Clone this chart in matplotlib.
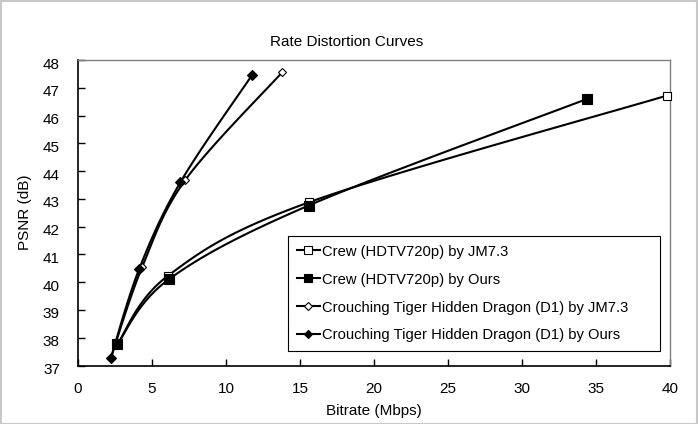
import numpy as np
import matplotlib
matplotlib.use("Agg")
import matplotlib.pyplot as plt
import matplotlib.transforms as mtransforms
from matplotlib.lines import Line2D

plt.rcParams['font.family'] = ['Liberation Sans', 'DejaVu Sans']

# Data (Bitrate Mbps, PSNR dB)
crew_jm_x = [2.65, 6.1, 15.62, 39.8]
crew_jm_y = [37.76, 40.24, 42.88, 46.72]
crew_ours_x = [2.65, 6.13, 15.58, 34.4]
crew_ours_y = [37.76, 40.1, 42.76, 46.6]
tiger_jm_x = [2.22, 4.33, 7.25, 13.8]
tiger_jm_y = [37.27, 40.54, 43.68, 47.56]
tiger_ours_x = [2.22, 4.13, 6.92, 11.75]
tiger_ours_y = [37.27, 40.47, 43.6, 47.45]

labels = ["Crew (HDTV720p) by JM7.3",
          "Crew (HDTV720p) by Ours",
          "Crouching Tiger Hidden Dragon (D1) by JM7.3",
          "Crouching Tiger Hidden Dragon (D1) by Ours"]

xticks = [0, 5, 10, 15, 20, 25, 30, 35, 40]
yticks = list(range(37, 49))

W, H = 698, 424
fig = plt.figure(figsize=(W / 100, H / 100), dpi=100)
ax = fig.add_axes([78 / W, 1 - 365.5 / H, (670 - 78) / W, (365.5 - 60) / H])

XMIN, XMAX, YMIN, YMAX = 0, 40, 37, 48
PXW, PXH = 592.0, 305.5


def smooth(xs, ys, n=40):
    # Catmull-Rom style smoothing (like spreadsheet smoothed lines), in pixel space
    px = (np.array(xs) - XMIN) / (XMAX - XMIN) * PXW
    py = (np.array(ys) - YMIN) / (YMAX - YMIN) * PXH
    pts = np.column_stack([px, py])
    P = np.vstack([pts[0], pts, pts[-1]])
    out = []
    for i in range(1, len(P) - 2):
        p0, p1, p2, p3 = P[i - 1], P[i], P[i + 1], P[i + 2]
        c1 = p1 + (p2 - p0) / 6.0
        c2 = p2 - (p3 - p1) / 6.0
        t = np.linspace(0, 1, n)[:, None]
        seg = ((1 - t) ** 3) * p1 + 3 * ((1 - t) ** 2) * t * c1 + 3 * (1 - t) * t ** 2 * c2 + t ** 3 * p2
        out.append(seg if i == 1 else seg[1:])
    out = np.vstack(out)
    return out[:, 0] / PXW * (XMAX - XMIN) + XMIN, out[:, 1] / PXH * (YMAX - YMIN) + YMIN


series = [
    (crew_jm_x, crew_jm_y, 's', 'white', 6),
    (crew_ours_x, crew_ours_y, 's', 'black', 6.5),
    (tiger_jm_x, tiger_jm_y, 'D', 'white', 4.5),
    (tiger_ours_x, tiger_ours_y, 'D', 'black', 4.8),
]

handles = []
for (xs, ys, m, fc, ms), lab in zip(series, labels):
    sx, sy = smooth(xs, ys)
    ax.plot(sx, sy, color='black', lw=1.5, zorder=2, clip_on=False)
    ax.plot(xs, ys, linestyle='none', marker=m, markerfacecolor=fc,
            markeredgecolor='black', markeredgewidth=0.8, markersize=ms,
            zorder=3, clip_on=False)
    handles.append(Line2D([], [], color='black', lw=1.5, marker=m,
                          markerfacecolor=fc, markeredgecolor='black',
                          markeredgewidth=0.8, markersize=ms * 0.85, label=lab))

ax.set_xlim(XMIN, XMAX)
ax.set_ylim(YMIN, YMAX)
ax.set_xticks(xticks)
ax.set_yticks(yticks)
ax.tick_params(direction='in', length=5, width=1, labelsize=11,
               top=False, right=False)
ax.tick_params(axis='x', pad=12)
ax.tick_params(axis='y', pad=13)
off = mtransforms.ScaledTranslation(0, -0.03, fig.dpi_scale_trans)
for lbl in ax.get_yticklabels():
    lbl.set_transform(lbl.get_transform() + off)

for s in ['top', 'right']:
    ax.spines[s].set_color('#808080')
    ax.spines[s].set_linewidth(1)
for s in ['left', 'bottom']:
    ax.spines[s].set_color('black')
    ax.spines[s].set_linewidth(1.2)

ax.set_xlabel("Bitrate (Mbps)", fontsize=11, labelpad=6)
ax.set_ylabel("PSNR (dB)", fontsize=11, labelpad=8)
fig.text(0.497, 1 - 42 / H, "Rate Distortion Curves", ha='center', va='center', fontsize=11)

leg = ax.legend(handles=handles, loc='upper left',
                bbox_to_anchor=((288 - 78) / PXW, 1 - (350 - 60) / PXH, (660 - 288) / PXW, (350 - 236) / PXH),
                mode='expand', fontsize=10.6, frameon=True, fancybox=False,
                edgecolor='black', framealpha=1, handlelength=1.6, handletextpad=0.15,
                borderaxespad=0, labelspacing=0.95, borderpad=0.58)
leg.get_frame().set_linewidth(0.8)

# figure border
fig.patches.append(plt.Rectangle((0.001, 0.001), 0.997, 0.997, transform=fig.transFigure,
                                 fill=False, edgecolor='#c8c8c8', linewidth=1.5))

fig.savefig("out.png", dpi=100)
